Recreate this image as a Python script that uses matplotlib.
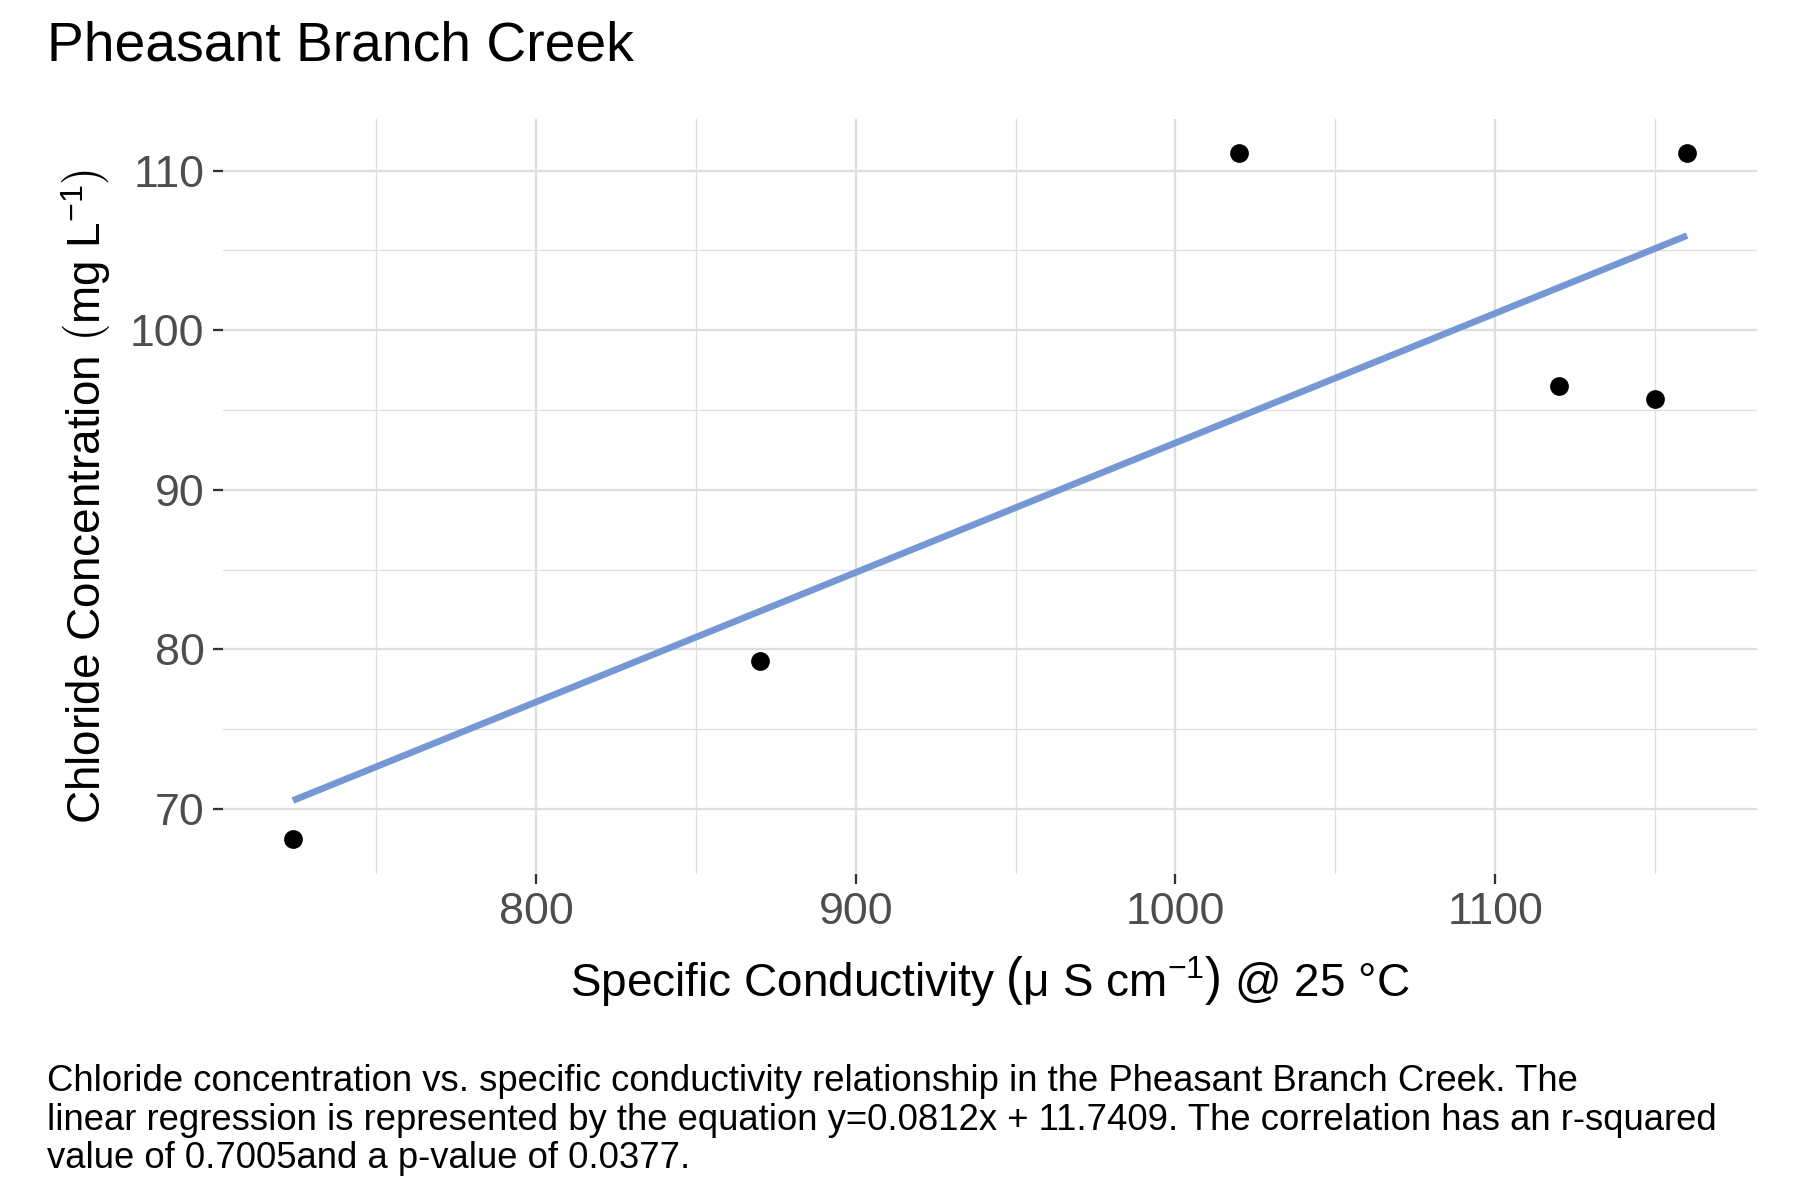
import numpy as np
import matplotlib.pyplot as plt
from matplotlib.ticker import MultipleLocator

plt.rcParams['font.family'] = ['Liberation Sans', 'DejaVu Sans']
plt.rcParams['mathtext.fontset'] = 'custom'
plt.rcParams['mathtext.rm'] = 'Liberation Sans'
plt.rcParams['mathtext.it'] = 'Liberation Sans:italic'
plt.rcParams['mathtext.sf'] = 'Liberation Sans'

# specific conductivity (uS/cm) and chloride (mg/L)
conductivity = [724, 870, 1020, 1120, 1150, 1160]
chloride = [68.1, 79.3, 111.1, 96.5, 95.7, 111.1]

# regression from the caption
slope = 0.0812
intercept = 11.7409
r_squared = 0.7005
p_value = 0.0377

x_ticks = [800, 900, 1000, 1100]
y_ticks = [70, 80, 90, 100, 110]

title = "Pheasant Branch Creek"
caption = ("Chloride concentration vs. specific conductivity relationship in the Pheasant Branch Creek. The\n"
           f"linear regression is represented by the equation y={slope}x + {intercept}. The correlation has an r-squared\n"
           f"value of {r_squared}and a p-value of {p_value}.")

if __name__ == "__main__":
    fig = plt.figure(figsize=(12, 8), dpi=150)
    ax = fig.add_axes([0.124, 0.272, 0.852, 0.629])

    x = np.array(conductivity, dtype=float)
    y = np.array(chloride, dtype=float)

    # fitted line over the data range
    xs = np.linspace(x.min(), x.max(), 50)
    ax.plot(xs, slope * xs + intercept, color="#7597d4", lw=3.2, solid_capstyle="butt", zorder=3)
    ax.plot(x, y, "o", color="black", markersize=8, zorder=4)

    # ggplot-like 5% expansion
    xr = x.max() - x.min()
    yr = y.max() - y.min()
    ax.set_xlim(x.min() - 0.05 * xr, x.max() + 0.05 * xr)
    ax.set_ylim(y.min() - 0.05 * yr, y.max() + 0.05 * yr)

    ax.set_xticks(x_ticks)
    ax.set_yticks(y_ticks)
    ax.xaxis.set_minor_locator(MultipleLocator(50))
    ax.yaxis.set_minor_locator(MultipleLocator(5))
    ax.grid(which="major", color="#dedede", lw=1.1)
    ax.grid(which="minor", color="#dedede", lw=0.6)
    ax.set_axisbelow(True)
    for s in ax.spines.values():
        s.set_visible(False)
    ax.tick_params(which="major", length=5, width=1.1, color="#333333",
                   labelsize=21.5, labelcolor="#4d4d4d", pad=4)
    ax.tick_params(which="minor", length=0)

    ax.set_xlabel(r"Specific Conductivity $\left(\mathrm{μ\ S\ cm}^{-1}\right)$ @ 25 °C",
                  fontsize=22, labelpad=10)
    ax.set_ylabel(r"Chloride Concentration $\left(\mathrm{mg\ L}^{-1}\right)$",
                  fontsize=22, labelpad=8)

    fig.text(0.026, 0.961, title, fontsize=26.5, ha="left", va="center")
    fig.text(0.026, 0.113, caption, fontsize=17.5, ha="left", va="top", linespacing=1.12)

    plt.savefig("out.png", dpi=150, facecolor="white")
